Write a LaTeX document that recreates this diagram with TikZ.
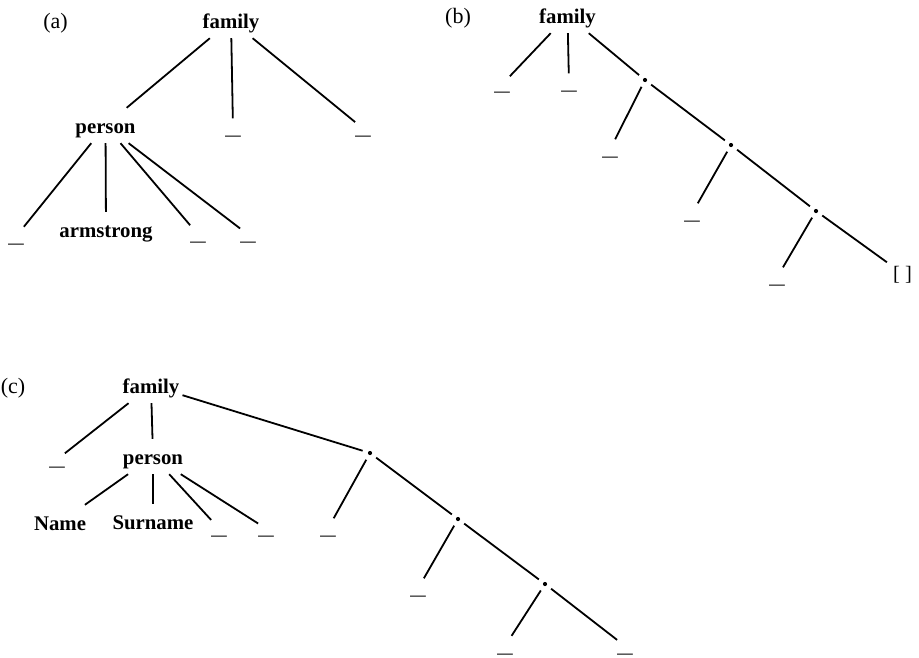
\documentclass[tikz,border=0pt]{standalone}
\usepackage{fontspec}
\setmainfont{Liberation Serif}
\usepackage{graphicx}
\begin{document}
\begin{tikzpicture}[x=1pt,y=-1pt,
  word/.style={font=\bfseries\fontsize{20.8}{24}\selectfont, inner xsep=3pt, inner ysep=0pt, text height=25pt, text depth=10pt, anchor=base},
  us/.style={font=\fontsize{20.5}{24}\selectfont, inner sep=0pt, text height=16pt, text depth=4pt, anchor=base},
  nil/.style={font=\fontsize{20.5}{24}\selectfont, inner xsep=6pt, inner ysep=0pt, text height=18pt, text depth=5pt, anchor=base},
  lab/.style={font=\fontsize{22}{24}\selectfont, anchor=base},
  dot/.style={circle, inner sep=0pt, minimum size=15pt, path picture={\fill (path picture bounding box.center) circle (2.1pt);}},
  edge/.style={line width=1.8pt}]
\useasboundingbox (0,0) rectangle (919,657);
\newcommand{\usc}{\scalebox{1.5}[1]{\_}}
% (a)
\node[lab] (la) at (55.5,28) {(a)};
\node[word] (af) at (231,28) {family};
\node[word] (ap) at (105.5,133) {person};
\node[word] (aarm) at (106,237) {armstrong};
\node[us] (am) at (233,134.5) {\usc};
\node[us] (ar) at (363,134.5) {\usc};
\node[us] (a1) at (16,242.5) {\usc};
\node[us] (a3) at (198,240.5) {\usc};
\node[us] (a4) at (248,240.5) {\usc};
\draw[edge] (af) -- (ap);
\draw[edge] (af) -- (am);
\draw[edge] (af) -- (ar);
\draw[edge] (ap) -- (a1);
\draw[edge] (ap) -- (aarm);
\draw[edge] (ap) -- (a3);
\draw[edge] (ap) -- (a4);
% (b)
\node[lab] (lb) at (458,23) {(b)};
\node[word] (bf) at (567.5,23) {family};
\node[us] (b1) at (502,90.5) {\usc};
\node[us] (b2) at (569,89.5) {\usc};
\node[dot] (bd1) at (645,80) {};
\node[us] (b3) at (610,155.5) {\usc};
\node[dot] (bd2) at (731,145) {};
\node[us] (b4) at (692,219.5) {\usc};
\node[dot] (bd3) at (816,211) {};
\node[us] (b5) at (777,283.5) {\usc};
\node[nil] (bnil) at (902.5,280) {[ ]};
\draw[edge] (bf) -- (b1);
\draw[edge] (bf) -- (b2);
\draw[edge] (bf) -- (bd1);
\draw[edge] (bd1) -- (b3);
\draw[edge] (bd1) -- (bd2);
\draw[edge] (bd2) -- (b4);
\draw[edge] (bd2) -- (bd3);
\draw[edge] (bd3) -- (b5);
\draw[edge] (bd3) -- (bnil);
% (c)
\node[lab] (lc) at (13,393) {(c)};
\node[word] (cf) at (151,393) {family};
\node[us] (c1) at (57,465.5) {\usc};
\node[word] (cp) at (153,464) {person};
\node[word] (cn) at (60,530) {Name};
\node[word] (cs) at (153,529) {Surname};
\node[us] (c3) at (219,534.5) {\usc};
\node[us] (c4) at (266,534.5) {\usc};
\node[dot] (cd1) at (370,453) {};
\node[us] (c5) at (328,534.5) {\usc};
\node[dot] (cd2) at (458,519) {};
\node[us] (c6) at (418,594.5) {\usc};
\node[dot] (cd3) at (545,584) {};
\node[us] (c7) at (505,652) {\usc};
\node[us] (c8) at (625,652) {\usc};
\draw[edge] (cf) -- (c1);
\draw[edge] (cf) -- (cp);
\draw[edge] (cf) -- (cd1);
\draw[edge] (cp) -- (cn);
\draw[edge] (cp) -- (cs);
\draw[edge] (cp) -- (c3);
\draw[edge] (cp) -- (c4);
\draw[edge] (cd1) -- (c5);
\draw[edge] (cd1) -- (cd2);
\draw[edge] (cd2) -- (c6);
\draw[edge] (cd2) -- (cd3);
\draw[edge] (cd3) -- (c7);
\draw[edge] (cd3) -- (c8);
\end{tikzpicture}
\end{document}
